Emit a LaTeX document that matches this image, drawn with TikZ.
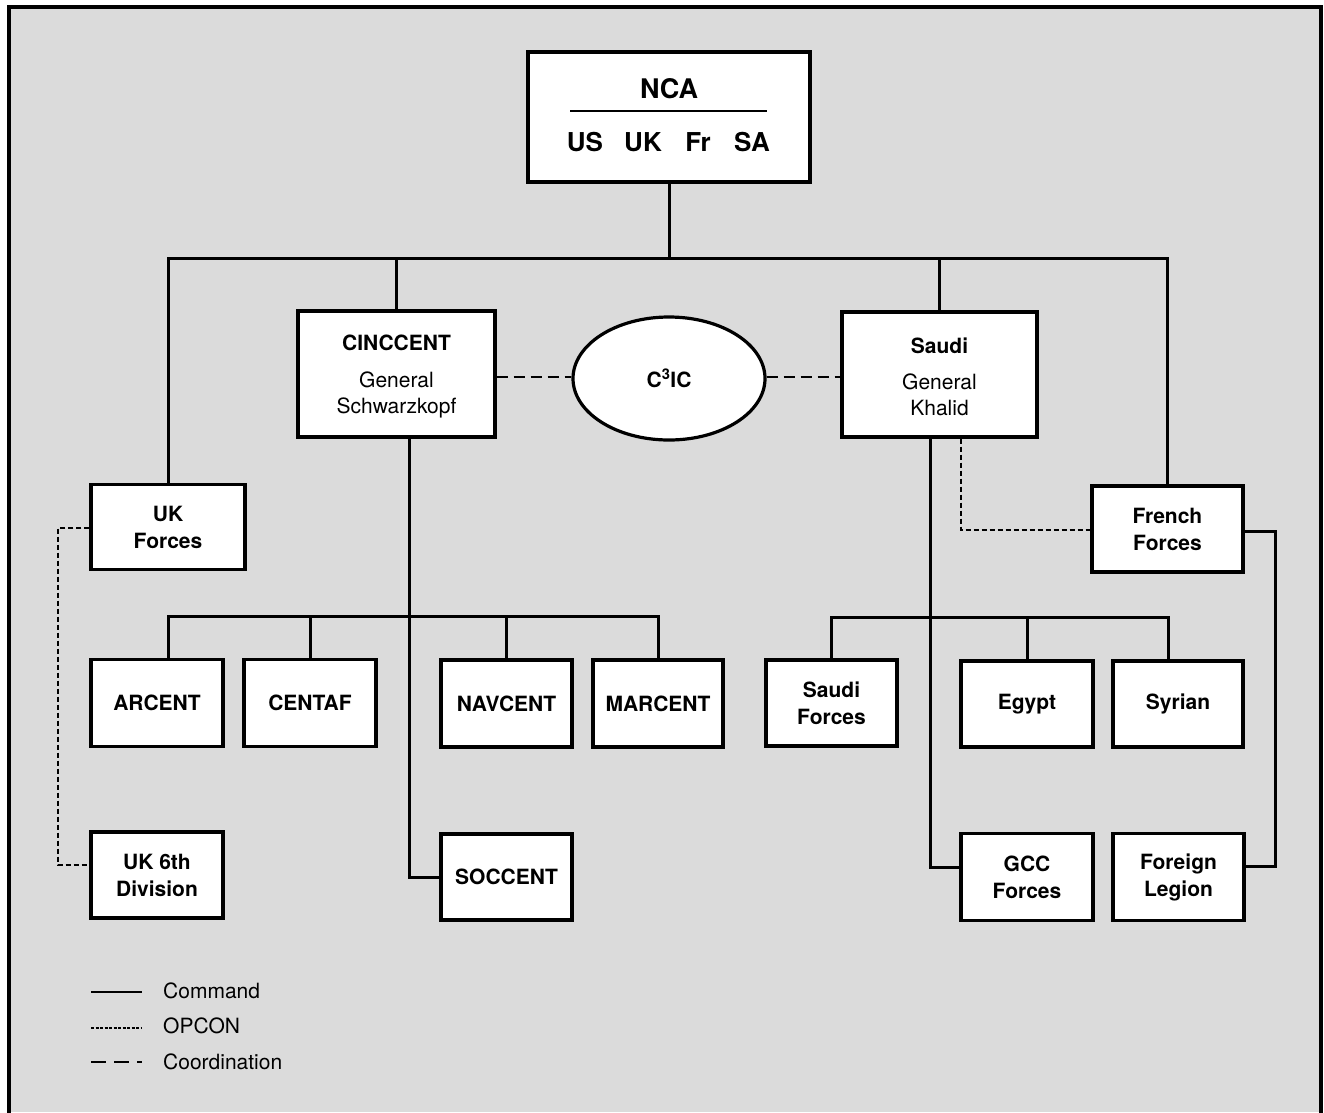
\documentclass[tikz,border=0pt]{standalone}
\usepackage{fontspec}
\setmainfont{TeX Gyre Heros}
\usetikzlibrary{shapes.geometric,calc}
\tikzset{
  cmd/.style={line width=3pt,line cap=rect},
  opcon/.style={line width=2.8pt,dash pattern=on 5pt off 3pt},
  coord/.style={line width=2.6pt,dash pattern=on 11pt off 6pt},
  unit/.style={draw,line width=3.2pt,fill=white,inner sep=0pt,align=center,
     font=\fontsize{21}{27}\selectfont\bfseries},
  txt/.style={inner sep=0pt,align=center,font=\fontsize{21}{26}\selectfont},
  lbl/.style={inner sep=0pt,font=\fontsize{21}{26}\selectfont},
  big/.style={inner sep=0pt,font=\fontsize{27}{30}\selectfont\bfseries},
  mid/.style={inner sep=0pt,font=\fontsize{26}{30}\selectfont\bfseries},
}
\begin{document}
\begin{tikzpicture}[x=1pt,y=-1pt]
\useasboundingbox (0,0) rectangle (1324,1112);
\fill[black!14] (9,7) rectangle (1321,1112);
\draw[line width=3.4pt] (9,1116) -- (9,7) -- (1321,7) -- (1321,1116);

% NCA
\node[unit,minimum width=282pt,minimum height=130pt] (nca) at (669,117) {};
\node[big] (ncat) at (669,89) {NCA};
\coordinate (rl) at (570,111);
\coordinate (rr) at (767,111);
\draw[line width=2.4pt] (rl) -- (rr);
\node[mid] (nus) at (585,142) {US};
\node[mid] (nuk) at (643,142) {UK};
\node[mid] (nfr) at (698,142) {Fr};
\node[mid] (nsa) at (752,142) {SA};

% second level
\node[unit,minimum width=197pt,minimum height=126pt] (cinc) at (396.5,374) {};
\node[txt,font=\fontsize{21}{26}\selectfont\bfseries] (cinct) at (396.5,343) {CINCCENT};
\node[txt] (cincg) at (396.5,395) {General\\Schwarzkopf};
\node[unit,ellipse,minimum width=192pt,minimum height=123pt] (c3ic) at (669,378.5)
  {C\textsuperscript{3}IC};
\node[unit,minimum width=195pt,minimum height=125pt] (saudi) at (939.5,374.5) {};
\node[txt,font=\fontsize{21}{26}\selectfont\bfseries] (saudit) at (939.5,346) {Saudi};
\node[txt] (saudig) at (939.5,395) {General\\Khalid};
\node[unit,minimum width=154pt,minimum height=85pt] (ukf) at (168,527) {UK\\Forces};
\node[unit,minimum width=151pt,minimum height=86pt] (frf) at (1167.5,529) {French\\Forces};

% components
\node[unit,minimum width=132pt,minimum height=87pt] (arc) at (157,703) {ARCENT};
\node[unit,minimum width=132pt,minimum height=87pt] (cen) at (310,703) {CENTAF};
\node[unit,minimum width=131pt,minimum height=87pt] (nav) at (506.5,703.5) {NAVCENT};
\node[unit,minimum width=130pt,minimum height=87pt] (mar) at (658,703.5) {MARCENT};
\node[unit,minimum width=131pt,minimum height=86pt] (sf) at (831.5,703) {Saudi\\Forces};
\node[unit,minimum width=132pt,minimum height=86pt] (egy) at (1027,704) {Egypt};
\node[unit,minimum width=130pt,minimum height=86pt] (syr) at (1178,704) {Syrian};

% bottom row
\node[unit,minimum width=132pt,minimum height=86pt] (uk6) at (157,875) {UK 6th\\Division};
\node[unit,minimum width=131pt,minimum height=86pt] (soc) at (506.5,877) {SOCCENT};
\node[unit,minimum width=132pt,minimum height=87pt] (gcc) at (1027,877) {GCC\\Forces};
\node[unit,minimum width=131pt,minimum height=87pt] (fl) at (1178.5,877) {Foreign\\Legion};

% command lines
\coordinate (bus) at (668,258);
\draw[cmd] (nca.south) -- (nca.south |- bus);
\draw[cmd] (ukf.north) -- (ukf.north |- bus) -- (frf.north |- bus) -- (frf.north);
\draw[cmd] (cinc.north) -- (cinc.north |- bus);
\draw[cmd] (saudi.north) -- (saudi.north |- bus);

\coordinate (cb) at (168,616);
\coordinate (cv) at (409,877);
\draw[cmd] (arc.north -| cb) -- (cb) -- (mar.north |- cb) -- (mar.north);
\draw[cmd] (cen.north) -- (cen.north |- cb);
\draw[cmd] (nav.north) -- (nav.north |- cb);
\draw[cmd] (cinc.south -| cv) -- (cv) -- (soc.west);

\coordinate (sb) at (831,617);
\coordinate (sbr) at (1168,617);
\draw[cmd] (sf.north) -- (sf.north |- sb) -- (sbr) -- (syr.north -| sbr);
\draw[cmd] (egy.north) -- (egy.north |- sb);
\coordinate (sv) at (930,867);
\draw[cmd] (saudi.south -| sv) -- (sv) -- (gcc.west |- sv);
\coordinate (fv) at (1275,531);
\coordinate (fvb) at (1275,866);
\draw[cmd] (frf.east |- fv) -- (fv) -- (fvb) -- (fl.east |- fvb);

% OPCON
\coordinate (ua) at (58,528);
\coordinate (ub) at (58,865);
\draw[opcon] (ukf.west |- ua) -- (ua) -- (ub) -- (uk6.west |- ub);
\coordinate (sa) at (961,530);
\draw[opcon] (saudi.south -| sa) -- (sa) -- (frf.west |- sa);

% coordination
\coordinate (cl) at (0,377);
\draw[coord] (cinc.east |- cl) -- (c3ic.west |- cl);
\draw[coord] (c3ic.east |- cl) -- (saudi.west |- cl);

% legend
\coordinate (l1a) at (91,992); \coordinate (l1b) at (142,992);
\coordinate (l2a) at (91,1028); \coordinate (l2b) at (142,1028);
\coordinate (l3a) at (91,1062); \coordinate (l3b) at (142,1062);
\draw[line width=2.8pt] (l1a) -- (l1b);
\draw[line width=2.4pt,dash pattern=on 3pt off 1.5pt] (l2a) -- (l2b);
\draw[line width=2.8pt,dash pattern=on 15pt off 8pt] (l3a) -- (l3b);
\node[lbl,anchor=west] (lg1) at (163,991) {Command};
\node[lbl,anchor=west] (lg2) at (163,1026) {OPCON};
\node[lbl,anchor=west] (lg3) at (163,1062) {Coordination};
\end{tikzpicture}
\end{document}
